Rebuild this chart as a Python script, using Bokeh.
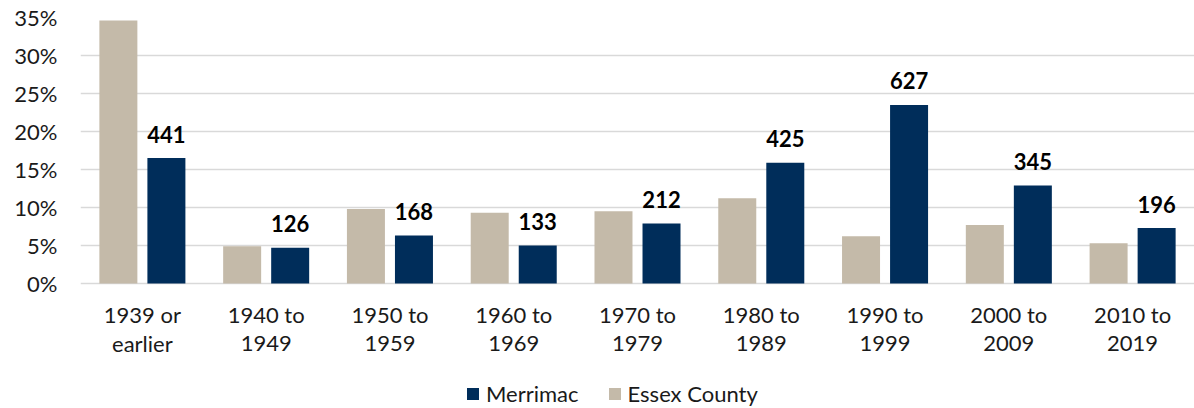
from bokeh.plotting import figure
from bokeh.models import (ColumnDataSource, FactorRange, Legend, LegendItem, PrintfTickFormatter,
                          FixedTicker)
from bokeh.transform import dodge
from bokeh.core.properties import value
from bokeh.embed import file_html
from bokeh.resources import INLINE

categories = ["1939 or\nearlier", "1940 to\n1949", "1950 to\n1959", "1960 to\n1969",
              "1970 to\n1979", "1980 to\n1989", "1990 to\n1999", "2000 to\n2009", "2010 to\n2019"]
merrimac_pct = [16.5, 4.7, 6.3, 5.0, 7.9, 15.9, 23.5, 12.9, 7.3]
essex_pct = [34.6, 4.9, 9.8, 9.3, 9.5, 11.2, 6.2, 7.7, 5.3]
merrimac_units = [441, 126, 168, 133, 212, 425, 627, 345, 196]
y_ticks = [0, 5, 10, 15, 20, 25, 30, 35]

NAVY = "#002D5A"
BEIGE = "#C4BAA9"
FONT = "Lato"
TXT = "#1a1a1a"

src = ColumnDataSource(dict(
    cat=categories, merrimac=merrimac_pct, essex=essex_pct,
    units=[str(u) for u in merrimac_units],
    line1=[c.split("\n")[0] for c in categories],
    line2=[c.split("\n")[1] for c in categories],
    zero=[0] * len(categories),
))

# the frame runs down to the bottom of the figure so the category labels and the
# legend below the 0% line stay inside the drawing area
p = figure(width=1194, height=408, x_range=FactorRange(*categories, range_padding=0),
           y_range=(-16.45, 35), output_backend="svg", toolbar_location=None,
           min_border_left=80, min_border_right=0, min_border_top=17, min_border_bottom=0)
p.outline_line_color = None
p.xaxis.visible = False

r_essex = p.vbar(x=dodge("cat", -0.194, range=p.x_range), top="essex", width=0.307,
                 source=src, color=BEIGE, line_color=None)
r_merr = p.vbar(x=dodge("cat", 0.194, range=p.x_range), top="merrimac", width=0.307,
                source=src, color=NAVY, line_color=None)

# value labels above the Merrimac bars
p.text(x=dodge("cat", 0.194, range=p.x_range), y="merrimac", text="units", source=src,
       text_align="center", text_baseline="alphabetic", y_offset=-24,
       text_font=value(FONT), text_font_style="bold", text_font_size="22px", text_color="#000000")

# category labels (two lines) under the 0% line
for col, off in (("line1", 31), ("line2", 60)):
    p.text(x="cat", y="zero", text=col, source=src, text_align="center",
           text_baseline="alphabetic", y_offset=off, text_font=value(FONT),
           text_font_size="22px", text_color=TXT)

p.xgrid.grid_line_color = None
p.ygrid.grid_line_color = "#D9D9D9"
p.ygrid.grid_line_width = 1.5
p.yaxis.ticker = FixedTicker(ticks=y_ticks)
p.ygrid.ticker = FixedTicker(ticks=y_ticks)
p.yaxis.formatter = PrintfTickFormatter(format="%d%%")
p.yaxis.axis_line_color = None
p.yaxis.major_tick_line_color = None
p.yaxis.minor_tick_line_color = None
p.yaxis.major_tick_out = 0
p.yaxis.major_label_standoff = 23
p.yaxis.major_label_text_font = FONT
p.yaxis.major_label_text_font_size = "22px"
p.yaxis.major_label_text_color = TXT

legend = Legend(items=[LegendItem(label="Merrimac", renderers=[r_merr]),
                       LegendItem(label="Essex County", renderers=[r_essex])],
                orientation="horizontal", location=(385, 1),
                glyph_width=15, glyph_height=15, label_standoff=6, spacing=28,
                padding=0, margin=0, border_line_color=None, background_fill_alpha=0,
                label_text_font=FONT, label_text_font_size="22px", label_text_color=TXT)
p.add_layout(legend, "center")

open("out.html", "w").write(file_html(p, INLINE))
